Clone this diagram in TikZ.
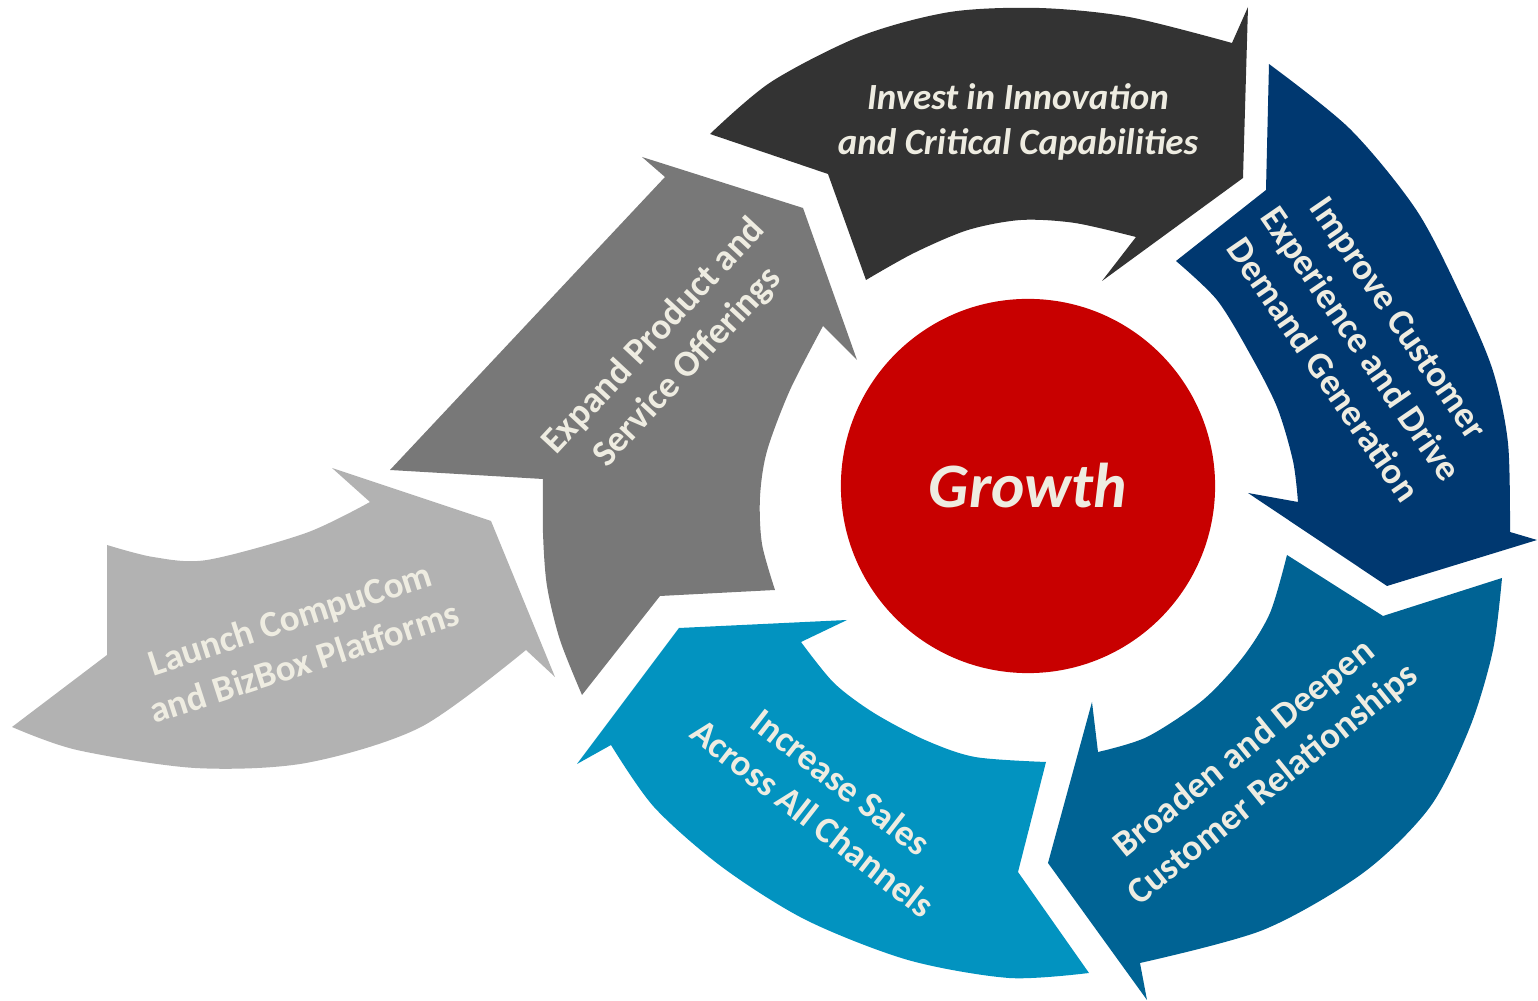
\documentclass[tikz,border=0pt]{standalone}
\usepackage{fontspec}
\setmainfont{Carlito}
\usepackage{tikz}

\definecolor{launchgray}{HTML}{B2B2B2}
\definecolor{expandgray}{HTML}{787878}
\definecolor{investdark}{HTML}{333333}
\definecolor{improvenavy}{HTML}{003870}
\definecolor{broadenblue}{HTML}{006394}
\definecolor{increaseblue}{HTML}{0293C0}
\definecolor{growthred}{HTML}{C80000}
\definecolor{txtcream}{HTML}{EEECE1}

\tikzset{lbl/.style={text=txtcream, align=center, inner sep=0pt, font=\bfseries\fontsize{10.5}{13}\selectfont}}

\begin{document}
\begin{tikzpicture}[x=0.01cm, y=-0.01cm]
   \useasboundingbox (0,0) rectangle (1538,1001);

   \fill[launchgray] (107,545) -- (107,655) -- (12,727)
      -- plot [smooth] coordinates {(12,727) (77,750) (195,768) (306,763) (421,727) (526,650)}
      -- (555,677) -- (491,521) -- (332,468) -- (370,502)
      -- plot [smooth] coordinates {(370,502) (306,533) (207,560) (153,557) (107,545)} -- cycle;

   \fill[expandgray] (390,470) -- (665,177) -- (642,157) -- (803,208) -- (857,360) -- (823,326)
      -- plot [smooth] coordinates {(823,326) (790,390) (767,451) (760,497) (762,544) (775,590)}
      -- (660,596) -- (582,695)
      -- plot [smooth] coordinates {(582,695) (560,640) (547,586) (543,533) (543,479)} -- cycle;

   \fill[investdark] (710,134) -- (828,174) -- (866,280)
      -- plot [smooth] coordinates {(866,280) (914,253) (968,230) (1021,220) (1075,223) (1136,237)}
      -- (1102,281) -- (1243,178) -- (1248,7) -- (1232,43)
      -- plot [smooth] coordinates {(1232,43) (1129,17) (1039,8) (950,12) (861,36) (771,82) (710,134)} -- cycle;

   \fill[improvenavy] (1269,64) -- (1266,190) -- (1176,261)
      -- plot [smooth] coordinates {(1176,261) (1217,300) (1250,354) (1277,407) (1293,461) (1298,502)}
      -- (1248,493) -- (1387,586) -- (1537,540) -- (1510,532)
      -- plot [smooth] coordinates {(1510,532) (1508,443) (1493,371) (1463,300) (1417,211) (1350,129) (1269,64)} -- cycle;

   \fill[broadenblue] (1502,578)
      -- plot [smooth] coordinates {(1502,578) (1493,650) (1470,727) (1430,807) (1363,873) (1263,930) (1140,963)}
      -- (1147,1000) -- (1048,863) -- (1092,702) -- (1098,752)
      -- plot [smooth] coordinates {(1098,752) (1147,737) (1203,700) (1243,657) (1270,613) (1287,555)}
      -- (1383,616) -- cycle;

   \fill[increaseblue] (1089,973) -- (1018,872) -- (1046,762)
      -- plot [smooth] coordinates {(1046,762) (975,757) (925,740) (874,713) (834,683) (801,642)}
      -- (847,620) -- (679,628) -- (577,764) -- (611,745)
      -- plot [smooth] coordinates {(611,745) (654,807) (722,867) (806,920) (908,960) (1009,978) (1089,973)} -- cycle;

   \node[circle, fill=growthred, minimum size=3.74cm, inner sep=0pt, text=txtcream,
         font=\bfseries\itshape\fontsize{18}{20}\selectfont] (growth) at (1028,486) {Growth};

   \node[lbl, rotate=18] (launch) at (297,640) {Launch CompuCom\\and BizBox Platforms};
   \node[lbl, rotate=47] (expand) at (671,352) {Expand Product and\\Service Offerings};
   \node[lbl, font=\bfseries\itshape\fontsize{10.5}{13}\selectfont] (invest) at (1018,122) {Invest in Innovation\\and Critical Capabilities};
   \node[lbl, rotate=-55.5] (improve) at (1361,344) {Improve Customer\\Experience and Drive\\Demand Generation};
   \node[lbl, rotate=39] (broaden) at (1259,767) {Broaden and Deepen\\Customer Relationships};
   \node[lbl, rotate=-38] (increase) at (827,800) {Increase Sales\\Across All Channels};
\end{tikzpicture}
\end{document}
